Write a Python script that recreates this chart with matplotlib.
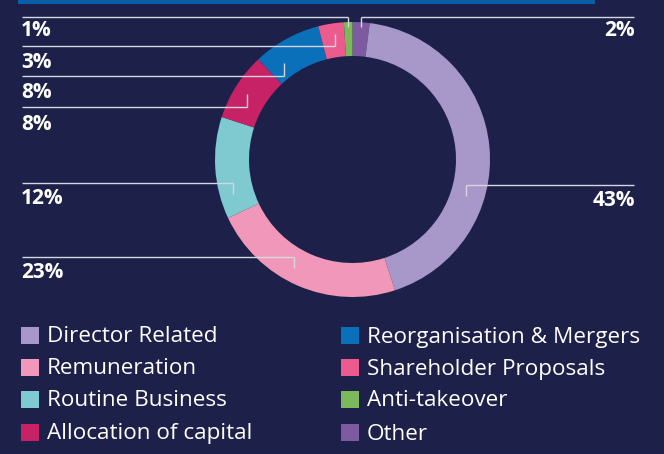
import matplotlib
matplotlib.use("Agg")
import matplotlib.pyplot as plt
from matplotlib.patches import Rectangle

# ---- data ----
categories = ["Other", "Director Related", "Remuneration", "Routine Business",
              "Allocation of capital", "Reorganisation & Mergers",
              "Shareholder Proposals", "Anti-takeover"]
values = [2, 43, 23, 12, 8, 8, 3, 1]
colors = ["#7e5aa1", "#a897c9", "#f197b9", "#7fcad0", "#c72265",
          "#0a70b9", "#ec5b8d", "#7bb95b"]
legend_order = ["Director Related", "Remuneration", "Routine Business",
                "Allocation of capital", "Reorganisation & Mergers",
                "Shareholder Proposals", "Anti-takeover", "Other"]

BG = "#1d2149"
LINE = "#d4d6e0"
W, H = 664, 454

plt.rcParams['font.family'] = ['Open Sans', 'DejaVu Sans']

fig = plt.figure(figsize=(W / 100, H / 100), dpi=100, facecolor=BG)
ax = fig.add_axes([0, 0, 1, 1])
ax.set_facecolor(BG)

def Y(y):
    return H - y

# top blue bar
ax.add_patch(Rectangle((18, Y(4)), 577, 6, color="#0a5ea9", lw=0))

# donut
cx, cy, r_out, ring = 352.5, 159.5, 137.5, 34
ax.pie(values, colors=colors, startangle=90, counterclock=False,
       radius=r_out, center=(cx, Y(cy)),
       wedgeprops=dict(width=ring, edgecolor='none', linewidth=0))

# leader-line layout: (category, side, line_y, tick_x, tick_end_y, label_y)
leaders = [
    ("Other", "right", 17, 361, 27, 31),
    ("Director Related", "right", 185, 466, 196, 201),
    ("Anti-takeover", "left", 17, 348, 27, 31),
    ("Shareholder Proposals", "left", 46, 335, 34, 62),
    ("Reorganisation & Mergers", "left", 76, 284, 63, 93),
    ("Allocation of capital", "left", 107, 247, 94, 124),
    ("Routine Business", "left", 183, 233, 194, 199),
    ("Remuneration", "left", 257, 294, 268, 272),
]
val_of = dict(zip(categories, values))
for cat, side, ly, tx, ty, laby in leaders:
    if side == "left":
        x0, x1 = 22, tx
        ax.text(21, Y(laby), f"{val_of[cat]}%", color="white", fontsize=15,
                fontweight="bold", ha="left", va="center")
    else:
        x0, x1 = tx, 634
        ax.text(635, Y(laby), f"{val_of[cat]}%", color="white", fontsize=15,
                fontweight="bold", ha="right", va="center")
    ax.plot([x0, x1], [Y(ly), Y(ly)], color=LINE, lw=1.0, solid_capstyle="butt")
    ax.plot([tx, tx], [Y(ly), Y(ty)], color=LINE, lw=1.0, solid_capstyle="butt")

# legend
col_of = dict(zip(categories, colors))
row_y = [335, 367, 399, 432]
col_x = [21, 341]
for i, cat in enumerate(legend_order):
    c, rr = divmod(i, 4)
    x, y = col_x[c], row_y[rr]
    ax.add_patch(Rectangle((x, Y(y) - 8.5), 17.5, 17, color=col_of[cat], lw=0))
    ax.text(x + 26, Y(y + 7.5), cat, color="white", fontsize=16.2, ha="left",
            va="baseline")

ax.set_xlim(0, W)
ax.set_ylim(0, H)
ax.set_aspect("auto")
ax.axis("off")

fig.savefig("out.png", dpi=100, facecolor=BG)
